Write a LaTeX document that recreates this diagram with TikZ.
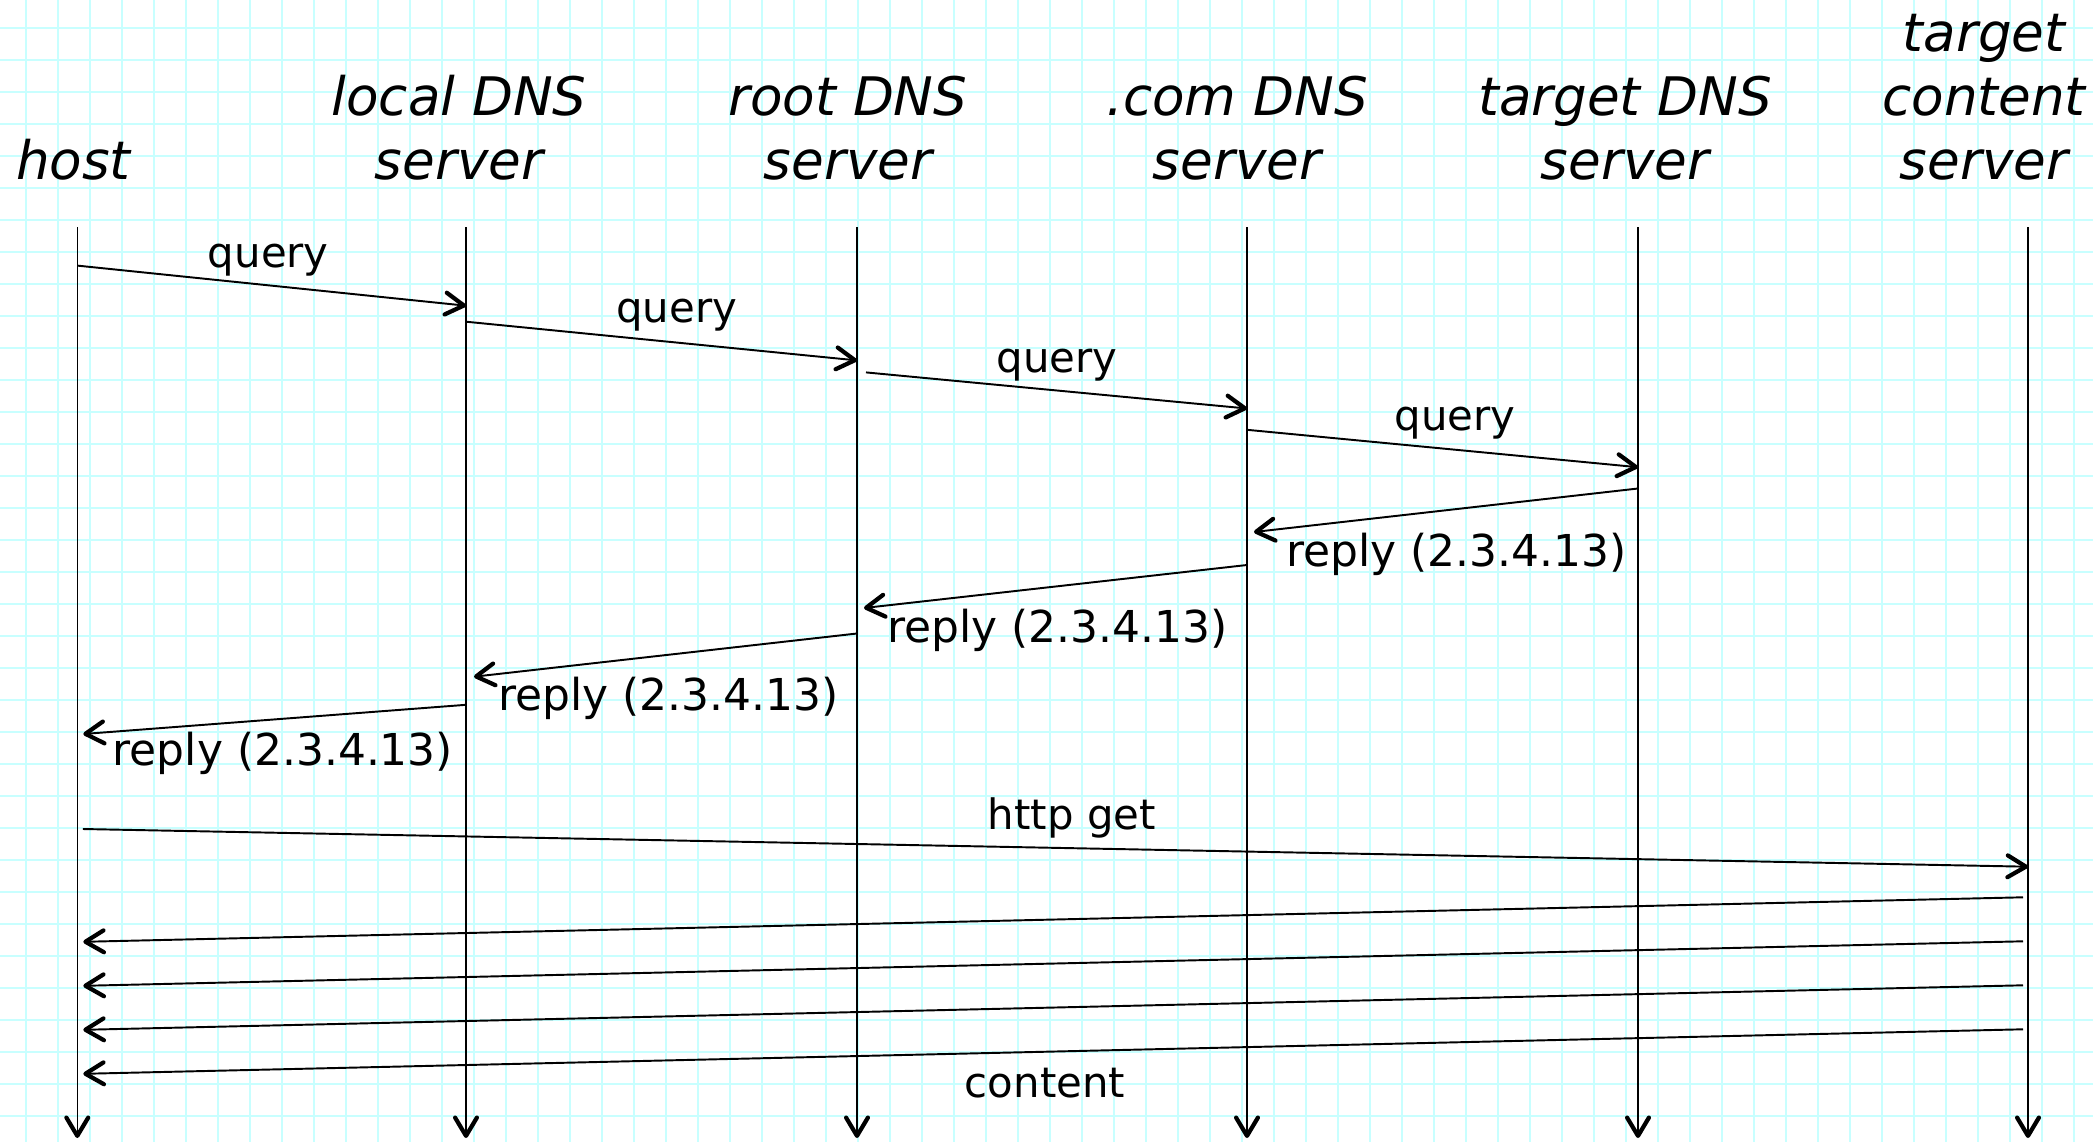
\documentclass[tikz,border=0pt]{standalone}
\usepackage{fontspec}
\setmainfont{DejaVu Sans}
\usetikzlibrary{arrows.meta,calc}

\definecolor{gridline}{RGB}{200,255,255}

\begin{document}
\begin{tikzpicture}[x=0.01cm,y=-0.01cm,
  barb/.style={-{Straight Barb[length=5.2pt,width=6.2pt,line width=1.2pt,round]}},
  life/.style={barb,line width=0.45pt},
  msg/.style={barb,line width=0.55pt},
  role/.style={font=\fontsize{15.1}{18.1}\selectfont\itshape,align=center,inner sep=0pt},
  lbl/.style={font=\fontsize{11.9}{14}\selectfont,inner sep=0pt},
  ans/.style={font=\fontsize{12.5}{14}\selectfont,inner sep=0pt,anchor=base west}]

% squared paper
\useasboundingbox (0,0) rectangle (2093,1142);
\fill[white] (0,0) rectangle (2093,1142);
\foreach \i in {0,...,64}
  \draw[gridline,line width=0.55pt] (25.7+32*\i,0) -- (25.7+32*\i,1142);
\foreach \j in {0,...,34}
  \draw[gridline,line width=0.55pt] (0,28+32*\j) -- (2093,28+32*\j);

% actors (base = last line)
\node[role,anchor=base] (host) at (73.4,179) {host};
\node[role,anchor=base] (localdns) at (459,179) {local DNS\\server};
\node[role,anchor=base] (rootdns) at (848,179) {root DNS\\server};
\node[role,anchor=base] (comdns) at (1237,179) {.com DNS\\server};
\node[role,anchor=base] (targetdns) at (1625,179) {target DNS\\server};
\node[role,anchor=base] (content) at (1984,179) {target\\content\\server};

% lifelines
\foreach \n/\x in {lh/77.3,ll/466,lr/857,lc/1247,lt/1638,lw/2028}{
  \coordinate (\n) at (\x,0);
  \draw[life] ($(\n)+(0,227)$) -- ($(\n)+(0,1138)$);
}

% name lookup
\draw[msg] ($(lh)+(0,265.6)$) -- ($(ll)+(0,305.7)$);
\node[lbl,anchor=base] (q1) at (268.3,267) {query};
\draw[msg] ($(ll)+(0,321.7)$) -- ($(lr)+(0,360.4)$);
\node[lbl,anchor=base] (q2) at (676.7,322.5) {query};
\draw[msg] ($(lr)+(9,372.4)$) -- ($(lc)+(0,408.5)$);
\node[lbl,anchor=base] (q3) at (1057,372) {query};
\draw[msg] ($(lc)+(0,429.8)$) -- ($(lt)+(0,467.2)$);
\node[lbl,anchor=base] (q4) at (1455,430) {query};

% answers coming back
\draw[msg] ($(lt)+(0,488.5)$) -- ($(lc)+(7,532)$);
\node[ans] (r1) at (1285.4,566) {reply (2.3.4.13)};
\draw[msg] ($(lc)+(0,565)$) -- ($(lr)+(7,608)$);
\node[ans] (r2) at (886.3,642) {reply (2.3.4.13)};
\draw[msg] ($(lr)+(0,633.5)$) -- ($(ll)+(8,676.7)$);
\node[ans] (r3) at (497.9,710) {reply (2.3.4.13)};
\draw[msg] ($(ll)+(0,704.8)$) -- ($(lh)+(6,734)$);
\node[ans] (r4) at (112.1,765) {reply (2.3.4.13)};

% page fetch
\draw[msg] ($(lh)+(5.5,829)$) -- ($(lw)+(0,866.7)$);
\node[lbl,anchor=base] (get) at (1071.8,829.5) {http get};
\foreach \y in {0,44,88,132}
  \draw[msg] ($(lw)+(-5,897.3+\y)$) -- ($(lh)+(6,941.8+\y)$);
\node[lbl,anchor=base] (data) at (1045,1097) {content};

\end{tikzpicture}
\end{document}
